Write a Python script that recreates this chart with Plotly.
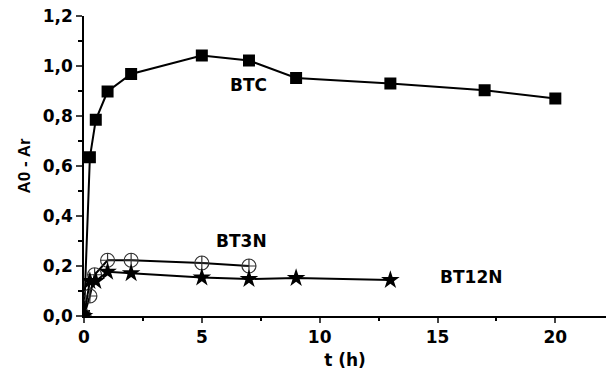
import plotly.graph_objects as go

# Data
btc_t = [0, 0.25, 0.5, 1, 2, 5, 7, 9, 13, 17, 20]
btc_y = [0, 0.635, 0.785, 0.898, 0.968, 1.042, 1.022, 0.952, 0.93, 0.903, 0.87]

bt3n_t = [0, 0.25, 0.45, 1, 2, 5, 7]
bt3n_y = [0, 0.08, 0.165, 0.223, 0.223, 0.212, 0.2]

bt12n_t = [0, 0.25, 0.5, 1, 2, 5, 7, 9, 13]
bt12n_y = [0, 0.14, 0.14, 0.177, 0.171, 0.154, 0.148, 0.152, 0.144]

labels = ["BTC", "BT3N", "BT12N"]
label_x = [6.99, 6.67, 16.41]
label_y = [0.924, 0.30, 0.156]

x_ticks = [0, 5, 10, 15, 20]
x_ticktext = ["0", "5", "10", "15", "20"]
y_ticks = [0.0, 0.2, 0.4, 0.6, 0.8, 1.0, 1.2]
y_ticktext = ["0,0", "0,2", "0,4", "0,6", "0,8", "1,0", "1,2"]

FONT = "DejaVu Sans"

fig = go.Figure()
fig.add_trace(go.Scatter(x=btc_t, y=btc_y, mode="lines+markers",
                         line=dict(color="black", width=2),
                         marker=dict(symbol="square", size=12, color="black"),
                         showlegend=False))
fig.add_trace(go.Scatter(x=bt3n_t, y=bt3n_y, mode="lines+markers",
                         line=dict(color="black", width=2),
                         marker=dict(symbol="circle-cross-open", size=14, color="#333",
                                     line=dict(width=1.2, color="#333")),
                         showlegend=False))
fig.add_trace(go.Scatter(x=bt12n_t, y=bt12n_y, mode="lines+markers",
                         line=dict(color="black", width=2),
                         marker=dict(symbol="star", size=14, color="black"),
                         showlegend=False))

for txt, xx, yy in zip(labels, label_x, label_y):
    fig.add_annotation(x=xx, y=yy, text="<b>%s</b>" % txt, showarrow=False,
                       font=dict(family=FONT, size=17, color="black"),
                       xanchor="center", yanchor="middle")

fig.update_layout(
    width=606, height=378,
    margin=dict(l=84, r=0, t=16, b=62),
    paper_bgcolor="white", plot_bgcolor="white",
    font=dict(family=FONT, color="black"),
    xaxis=dict(range=[0, 22.15], tickvals=x_ticks, ticktext=["<b>%s</b>" % t for t in x_ticktext],
               ticks="outside", ticklen=5, tickwidth=1.5,
               showline=True, linecolor="black", linewidth=1.5, showgrid=False, zeroline=False,
               tickfont=dict(family=FONT, size=17, color="black"),
               minor=dict(ticks="outside", ticklen=3, dtick=2.5, tick0=0, tickcolor="black", showgrid=False),
               title=dict(text="<b>t (h)</b>", font=dict(family=FONT, size=17, color="black"), standoff=8)),
    yaxis=dict(range=[0, 1.2], tickvals=y_ticks, ticktext=["<b>%s</b>" % t for t in y_ticktext],
               ticks="outside", ticklen=6, tickwidth=1.5,
               showline=True, linecolor="black", linewidth=1.5, showgrid=False, zeroline=False,
               tickfont=dict(family=FONT, size=17, color="black"),
               minor=dict(ticks="outside", ticklen=4, dtick=0.1, tick0=0, tickcolor="black", showgrid=False),
               title=dict(text="<b>A0 - Ar</b>", font=dict(family="Liberation Sans", size=17, color="black"), standoff=8)),
)

fig.write_html("out.html")
